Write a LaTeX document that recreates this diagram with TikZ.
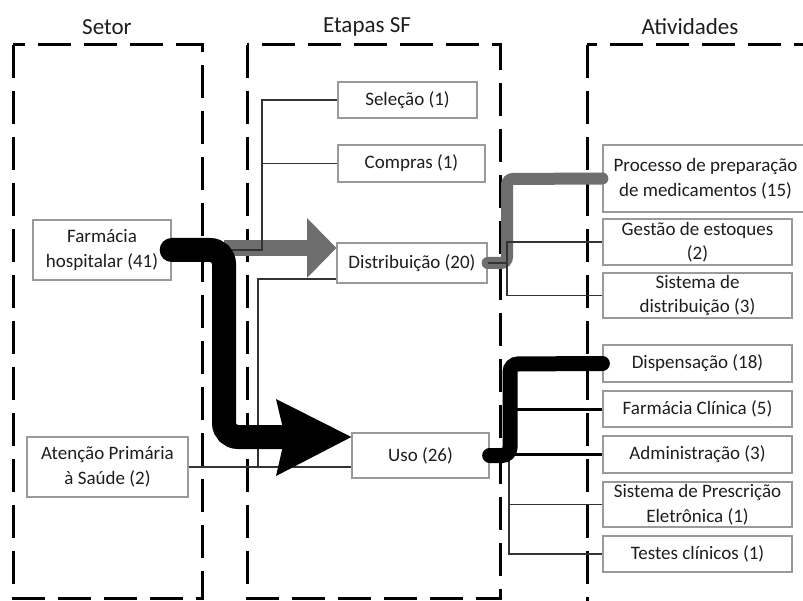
\documentclass[tikz,border=0pt]{standalone}
\usepackage{fontspec}
\setmainfont{Carlito}
\usetikzlibrary{calc}
\definecolor{boxgray}{HTML}{9A9A9A}
\definecolor{arrowgray}{HTML}{6E6E6E}
\definecolor{txt}{HTML}{1E1E1E}
\tikzset{
  frame/.style={line width=3pt, dash pattern=on 33pt off 13pt},
  stage/.style={draw=boxgray, line width=1.3pt, fill=white, align=center, text=txt,
    font=\fontsize{19}{24.5}\selectfont, inner sep=0pt},
  title/.style={font=\fontsize{23}{27}\selectfont, text=txt},
  thinline/.style={draw=black!80, line width=1.2pt},
  midline/.style={draw=black, line width=3pt},
}
\begin{document}
\begin{tikzpicture}[x=1pt,y=-1pt]
\useasboundingbox (0,0) rectangle (803,601);
\clip (0,0) rectangle (803,601);
% titles
\node[title] (tset) at (107,27) {Setor};
\node[title] (tetp) at (367,27) {Etapas SF};
\node[title] (tati) at (690,27) {Atividades};
% frames
\draw[frame] (13,45) rectangle (202,598);
\draw[frame] (247,45) rectangle (500,598);
\draw[frame] (587,45) rectangle (830,612);
% nodes
\node[stage, minimum width=138pt, minimum height=60pt] (farm) at (102,250) {Farmácia\\hospitalar (41)};
\node[stage, minimum width=161pt, minimum height=60pt] (aten) at (107.5,467) {Atenção Primária\\à Saúde (2)};
\node[stage, minimum width=139pt, minimum height=36pt] (sel) at (407.5,100) {Seleção (1)};
\node[stage, minimum width=147pt, minimum height=37pt] (comp) at (411.5,163.5) {Compras (1)};
\node[stage, minimum width=150pt, minimum height=40pt] (dist) at (412,263) {Distribuição (20)};
\node[stage, minimum width=137pt, minimum height=45pt] (uso) at (420.5,455.5) {Uso (26)};
\node[stage, minimum width=205pt, minimum height=67pt] (proc) at (705.5,178.5) {Processo de preparação\\de medicamentos (15)};
\node[stage, minimum width=189pt, minimum height=46pt] (gest) at (697.5,242) {Gestão de estoques\\(2)};
\node[stage, minimum width=189pt, minimum height=45pt] (sisd) at (697.5,295.5) {Sistema de\\distribuição (3)};
\node[stage, minimum width=189pt, minimum height=37pt] (disp) at (697.5,363.5) {Dispensação (18)};
\node[stage, minimum width=189pt, minimum height=36pt] (fcl) at (697.5,409) {Farmácia Clínica (5)};
\node[stage, minimum width=189pt, minimum height=37pt] (adm) at (697.5,454.5) {Administração (3)};
\node[stage, minimum width=189pt, minimum height=45pt] (spe) at (697.5,504.5) {Sistema de Prescrição\\Eletrônica (1)};
\node[stage, minimum width=189pt, minimum height=36pt] (tst) at (697.5,554) {Testes clínicos (1)};
% junction coordinates
\coordinate (jf) at (262,250);
\coordinate (ja) at (258,467);
\coordinate (jd) at (507,263);
\coordinate (ju) at (510,455.5);
\coordinate (jt) at (509,455.5);
% gray arrow to Distribuicao
\draw[arrowgray, line width=16pt] (224,248) -- (310,248);
\fill[arrowgray] ([yshift=15pt]dist.west) -- (307,218) -- (307,278) -- cycle;
% gray thick line from Distribuicao
\draw[arrowgray, line width=12pt, line cap=round, rounded corners=6pt] (dist.east) -- (jd) -- (507,179) -- (proc.west);
% thin connectors
\draw[thinline] (farm.east) -| (262,100) -- (sel.west);
\draw[thinline] (comp.west) -- (comp.west -| jf);
\draw[thinline] (aten.east) -- (aten.east -| uso.west);
\draw[thinline] ([yshift=-16pt]dist.west) -| (ja);
\draw[thinline] (dist.east) -- (jd) |- (gest.west);
\draw[thinline] (jd) |- (sisd.west);
\draw[thinline] (jt) |- (tst.west);
\draw[thinline] (spe.west) -- (spe.west -| jt);
% medium lines
\draw[midline] (510,409) -- (fcl.west);
\draw[midline] (510,454.5) -- (adm.west);
% black thick from Uso
\draw[black, line width=15pt, line cap=round, rounded corners=8pt] (uso.east) -- (ju) -- (510,364) -- (disp.west);
% black thick arrow Farmacia -> Uso
\draw[black, line width=24pt, line cap=round, rounded corners=14pt] (farm.east) -- (224,250) -- (224,437) -- (286,437);
\fill[black] ([yshift=18.5pt]uso.west) -- (276,399) -- (285,437) -- (276,476) -- cycle;
\end{tikzpicture}
\end{document}
